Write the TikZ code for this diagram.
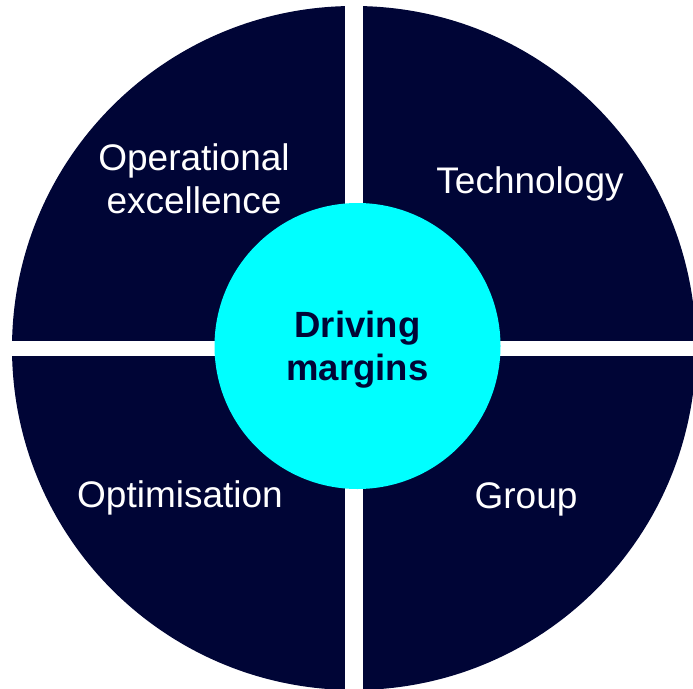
\documentclass[tikz,border=0pt]{standalone}
\usepackage{fontspec}
\setmainfont{Liberation Sans}
\definecolor{navy}{HTML}{000536}
\definecolor{cyanc}{HTML}{00FFFF}
\tikzset{
  lbl/.style={text=white, font=\fontsize{37}{43}\selectfont, align=center, inner sep=0pt},
  hub/.style={circle, fill=cyanc, minimum size=286pt, inner sep=0pt},
  hubtxt/.style={text=navy, font=\fontsize{36.5}{43}\selectfont\bfseries, align=center, inner sep=0pt},
  gap/.style={fill=white}
}
\begin{document}
\begin{tikzpicture}[x=1pt,y=-1pt]
\useasboundingbox (0,0) rectangle (693,688);
\clip (0,0) rectangle (693,688);
\fill[navy] (354,348) circle[radius=342];
\fill[gap] (345,-10) rectangle (363,700);
\fill[gap] (-10,341) rectangle (700,356);
\node[hub] (hub) at (357.5,346) {};
\node[hubtxt] (hubtext) at (357.5,350) {Driving\\margins};
\node[lbl] (opex) at (194,179) {Operational\\excellence};
\node[lbl] (tech) at (530,184) {Technology};
\node[lbl] (opt) at (180,498) {Optimisation};
\node[lbl] (grp) at (526,499) {Group};
\end{tikzpicture}
\end{document}
